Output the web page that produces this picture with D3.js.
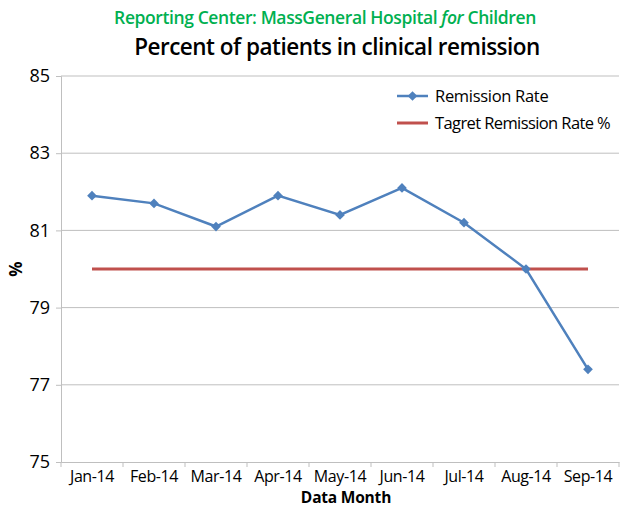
<!DOCTYPE html>
<html>
<head>
<meta charset="utf-8">
<script src="https://cdn.jsdelivr.net/npm/d3@7"></script>
<style>
  body { margin: 0; background: #fff; }
  svg { font-family: "Open Sans", sans-serif; }
</style>
</head>
<body>
<script>
const months = ["Jan-14","Feb-14","Mar-14","Apr-14","May-14","Jun-14","Jul-14","Aug-14","Sep-14"]
const remission = [81.9, 81.7, 81.1, 81.9, 81.4, 82.1, 81.2, 80.0, 77.4]
const target = [80, 80, 80, 80, 80, 80, 80, 80, 80]
const yTicks = [75, 77, 79, 81, 83, 85]

const width = 622, height = 509
const margin = { top: 76, right: 3, bottom: 47, left: 61 }

const svg = d3.select("body").append("svg")
  .attr("width", width).attr("height", height)

const x = d3.scaleBand().domain(months).range([margin.left, width - margin.right])
const y = d3.scaleLinear().domain([75, 85]).range([height - margin.bottom, margin.top])
const cx = d => x(d) + x.bandwidth() / 2

// titles
svg.append("text")
  .attr("x", 325).attr("y", 24)
  .attr("text-anchor", "middle")
  .attr("fill", "#00B050").attr("font-size", 17.5).attr("font-weight", 600)
  .attr("letter-spacing", -0.4)
  .html('Reporting Center: MassGeneral Hospital <tspan font-style="italic">for</tspan> Children')

svg.append("text")
  .attr("x", 337).attr("y", 55)
  .attr("text-anchor", "middle")
  .attr("fill", "#000").attr("font-size", 22.5).attr("font-weight", 600)
  .attr("letter-spacing", -0.5)
  .text("Percent of patients in clinical remission")

// gridlines
svg.append("g")
  .selectAll("line").data(yTicks.slice(1)).join("line")
  .attr("x1", margin.left).attr("x2", width - margin.right)
  .attr("y1", d => y(d)).attr("y2", d => y(d))
  .attr("stroke", "#BFBFBF").attr("stroke-width", 1)

// y axis
const yAxis = svg.append("g")
  .attr("transform", `translate(${margin.left},0)`)
  .call(d3.axisLeft(y).tickValues(yTicks).tickSize(5).tickPadding(6))
yAxis.select(".domain").attr("stroke", "#BFBFBF")
yAxis.selectAll(".tick line").attr("stroke", "#BFBFBF")
yAxis.selectAll("text").attr("font-size", 18).attr("fill", "#000")
  .attr("font-family", "Open Sans, sans-serif")

// x axis
const xAxis = svg.append("g")
  .attr("transform", `translate(0,${height - margin.bottom})`)
  .call(d3.axisBottom(x).tickSize(0).tickPadding(9))
xAxis.select(".domain").attr("stroke", "#BFBFBF")
xAxis.selectAll("text").attr("font-size", 16).attr("fill", "#000")
  .attr("font-family", "Open Sans, sans-serif").attr("letter-spacing", -0.4)
xAxis.selectAll(".xt").data(months.concat(["_end"])).join("line")
  .attr("x1", (d, i) => i < months.length ? x(d) : x(months[months.length - 1]) + x.bandwidth())
  .attr("x2", (d, i) => i < months.length ? x(d) : x(months[months.length - 1]) + x.bandwidth())
  .attr("y1", 0).attr("y2", 5)
  .attr("stroke", "#BFBFBF")

// axis titles
svg.append("text")
  .attr("x", 346).attr("y", 503)
  .attr("text-anchor", "middle")
  .attr("font-size", 15.5).attr("font-weight", 700)
  .attr("letter-spacing", -0.2)
  .text("Data Month")

svg.append("text")
  .attr("transform", `translate(22,${y(80)}) rotate(-90)`)
  .attr("text-anchor", "middle")
  .attr("font-size", 17).attr("font-weight", 700)
  .text("%")

// target line
const line = d3.line().x((d, i) => cx(months[i])).y(d => y(d))
svg.append("path")
  .datum(target)
  .attr("d", line)
  .attr("fill", "none").attr("stroke", "#C0504D").attr("stroke-width", 3)

// remission line
svg.append("path")
  .datum(remission)
  .attr("d", line)
  .attr("fill", "none").attr("stroke", "#4F81BD").attr("stroke-width", 2.5)

const diamond = d3.symbol().type(d3.symbolDiamond2).size(60)
svg.append("g").selectAll("path").data(remission).join("path")
  .attr("d", diamond)
  .attr("transform", (d, i) => `translate(${cx(months[i])},${y(d)})`)
  .attr("fill", "#4F81BD")

// legend
const lg = svg.append("g").attr("transform", "translate(397,96)")
lg.append("line").attr("x1", 0).attr("x2", 31).attr("y1", 0).attr("y2", 0)
  .attr("stroke", "#4F81BD").attr("stroke-width", 2.5)
lg.append("path").attr("d", diamond).attr("transform", "translate(15.5,0)").attr("fill", "#4F81BD")
lg.append("text").attr("x", 38).attr("y", 0).attr("dy", "0.35em")
  .attr("font-size", 16.5).attr("letter-spacing", -0.3).text("Remission Rate")
lg.append("line").attr("x1", 0).attr("x2", 31).attr("y1", 27).attr("y2", 27)
  .attr("stroke", "#C0504D").attr("stroke-width", 3)
lg.append("text").attr("x", 38).attr("y", 27).attr("dy", "0.35em")
  .attr("font-size", 16.5).attr("letter-spacing", -0.6).text("Tagret Remission Rate %")
</script>
</body>
</html>
